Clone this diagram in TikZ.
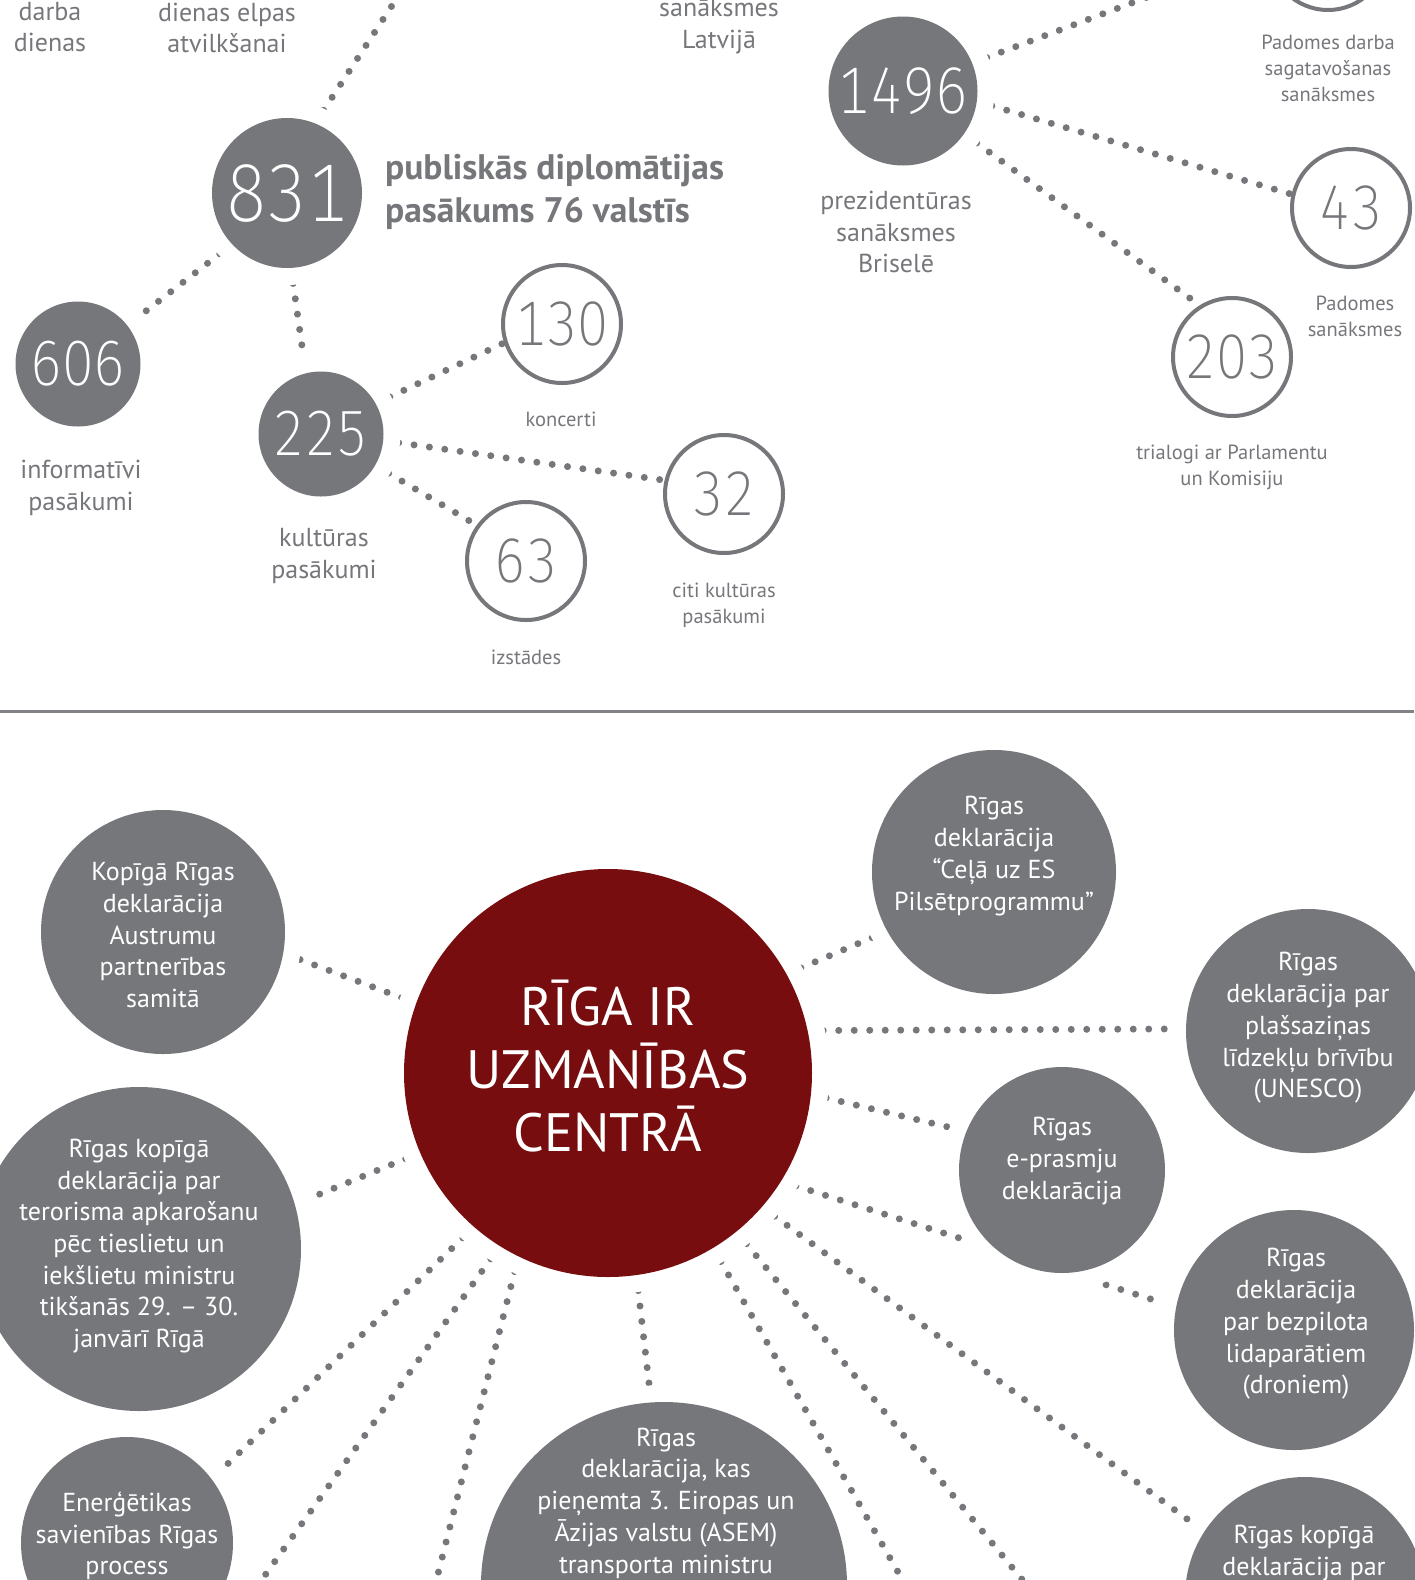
\documentclass[tikz,border=0pt]{standalone}
\usepackage{fontspec}
\setmainfont{PT Sans}
\newfontfamily\numfont{Fira Sans ExtraLight}[Numbers=Monospaced, FakeStretch=0.88]
\usepackage{xcolor}
\usepackage{tikz}
\usetikzlibrary{shapes,positioning,calc,backgrounds}

\definecolor{circgray}{RGB}{118,119,123}
\definecolor{rulegray}{RGB}{130,131,134}
\definecolor{rigared}{RGB}{119,13,15}

\begin{document}
\begin{tikzpicture}[x=1pt, y=-1pt,
    graydisc/.style={circle, fill=circgray, inner sep=0pt, text=white,
        preaction={draw=white, line width=34pt}},
    reddisc/.style={circle, fill=rigared, inner sep=0pt,
        preaction={draw=white, line width=34pt}},
    ringdisc/.style={circle, draw=circgray, line width=4pt, fill=white, inner sep=0pt,
        text=circgray, minimum size=118pt, font=\numfont\fontsize{63}{63}\selectfont},
    bignum/.style={font=\numfont\fontsize{#1}{#1}\selectfont},
    dotline/.style={draw=circgray, line width=7pt, line cap=round, dash pattern=on 0pt off 15.5pt},
    biglabel/.style={text=circgray, align=center, font=\fontsize{26}{31.5}\selectfont},
    smalllabel/.style={text=circgray, align=center, font=\fontsize{20.5}{26}\selectfont},
    disctext/.style={text=white, align=center, font=\fontsize{26}{31.7}\selectfont}]

    \useasboundingbox (0,0) rectangle (1414,1580);

    \node[graydisc, minimum size=150pt, bignum=82] (n831) at (287,193) {831};
    \node[graydisc, minimum size=125pt, bignum=64] (n606) at (78,364) {606};
    \node[graydisc, minimum size=125pt, bignum=64] (n225) at (321,434) {225};
    \node[ringdisc] (n130) at (562,324) {130};
    \node[ringdisc] (n32) at (724,494) {32};
    \node[ringdisc] (n63) at (526,561) {63};
    \node[graydisc, minimum size=149pt, bignum=66] (n1496) at (903,91) {1496};
    \node[ringdisc] (pdarba) at (1328,-49) {};
    \node[ringdisc] (n43) at (1351,208) {43};
    \node[ringdisc] (n203) at (1232,357) {203};
    \coordinate (top831) at (461,-100);

    \node[biglabel] at (50,27) {darba\\dienas};
    \node[biglabel] at (227,28) {dienas elpas\\atvilkšanai};
    \node[biglabel] at (719,26) {sanāksmes\\Latvijā};
    \node[text=circgray, anchor=west, align=left, inner sep=0pt,
        font=\bfseries\fontsize{35.5}{42.5}\selectfont] at (385,192) {publiskās diplomātijas\\pasākums 76 valstīs};
    \node[biglabel] at (81,488) {informatīvi\\pasākumi};
    \node[biglabel] at (324,556) {kultūras\\pasākumi};
    \node[smalllabel] at (561,419) {koncerti};
    \node[smalllabel] at (724,605) {citi kultūras\\pasākumi};
    \node[smalllabel] at (526,657) {izstādes};
    \node[biglabel] at (896,232) {prezidentūras\\sanāksmes\\Briselē};
    \node[smalllabel] at (1328,68) {Padomes darba\\sagatavošanas\\sanāksmes};
    \node[smalllabel] at (1355,316) {Padomes\\sanāksmes};
    \node[smalllabel] at (1232,467) {trialogi ar Parlamentu\\un Komisiju};

    \draw[rulegray, line width=3pt] (0,711) -- (1414,711);

    \node[reddisc, minimum size=408pt] (riga) at (608,1073) {};
    \node[graydisc, minimum size=244pt] (kopiga) at (163,932) {};
    \node[graydisc, minimum size=324pt] (terror) at (139,1249) {};
    \node[graydisc, minimum size=212pt] (energy) at (127,1543) {};
    \node[graydisc, minimum size=366pt] (asem) at (664,1585) {};
    \node[graydisc, minimum size=244pt] (cela) at (994,872) {};
    \node[graydisc, minimum size=244pt] (unesco) at (1308,1031) {};
    \node[graydisc, minimum size=206pt] (eprasm) at (1062,1170) {};
    \node[graydisc, minimum size=240pt] (drones) at (1294,1330) {};
    \node[graydisc, minimum size=240pt] (kopdekl) at (1305,1597) {};
    \coordinate (lowB) at (176,1700);
    \coordinate (lowC) at (406,1700);
    \coordinate (lowD) at (971,1700);
    \coordinate (lowE) at (1121,1700);

    \node[text=white, align=center, font=\fontsize{54}{63}\selectfont] at (608,1066) {RĪGA IR\\UZMANĪBAS\\CENTRĀ};
    \node[disctext] at (163,935) {Kopīgā Rīgas\\deklarācija\\Austrumu\\partnerības\\samitā};
    \node[disctext] at (139,1246) {Rīgas kopīgā\\deklarācija par\\terorisma apkarošanu\\pēc tieslietu un\\iekšlietu ministru\\tikšanās 29. – 30.\\janvārī Rīgā};
    \node[disctext] at (127,1536) {Enerģētikas\\savienības Rīgas\\process};
    \node[disctext] at (666,1503) {Rīgas\\deklarācija, kas\\pieņemta 3. Eiropas un\\Āzijas valstu (ASEM)\\transporta ministru};
    \node[disctext] at (994,856) {Rīgas\\deklarācija\\“Ceļā uz ES\\Pilsētprogrammu”};
    \node[disctext] at (1308,1028) {Rīgas\\deklarācija par\\plašsaziņas\\līdzekļu brīvību\\(UNESCO)};
    \node[disctext] at (1062,1161) {Rīgas\\e-prasmju\\deklarācija};
    \node[disctext] at (1296,1324) {Rīgas\\deklarācija\\par bezpilota\\lidaparātiem\\(droniem)};
    \node[disctext] at (1304,1553) {Rīgas kopīgā\\deklarācija par};

    \begin{pgfonlayer}{background}
        \draw[dotline] (n831.68) -- (top831);
        \draw[dotline] (n831.223) -- (n606.38);
        \draw[dotline] (n831.273) -- (n225.104);
        \draw[dotline] (n225.29) -- (n130.198);
        \draw[dotline] (n225.354) -- (n32.167);
        \draw[dotline] (n225.330) -- (n63.144);
        \draw[dotline] (n1496.22) -- (pdarba.181);
        \draw[dotline] (n1496.352) -- (n43.167);
        \draw[dotline] (n1496.325) -- (n203.122);

        \draw[dotline] (riga.160) -- (kopiga.350);
        \draw[dotline] (riga.203) -- (terror.16);
        \draw[dotline] (riga.229) -- (energy.37);
        \draw[dotline] (riga.238) -- (lowB);
        \draw[dotline] (riga.244) -- (lowC);
        \draw[dotline] (riga.278) -- (asem.94);
        \draw[dotline] (riga.301) -- (lowD);
        \draw[dotline] (riga.309) -- (lowE);
        \draw[dotline] (riga.319) -- (kopdekl.147);
        \draw[dotline] (riga.328) -- (drones.169);
        \draw[dotline] (riga.354) -- (eprasm.158);
        \draw[dotline] (riga.12) -- (unesco.179);
        \draw[dotline] (riga.29) -- (cela.209);
    \end{pgfonlayer}
\end{tikzpicture}
\end{document}
